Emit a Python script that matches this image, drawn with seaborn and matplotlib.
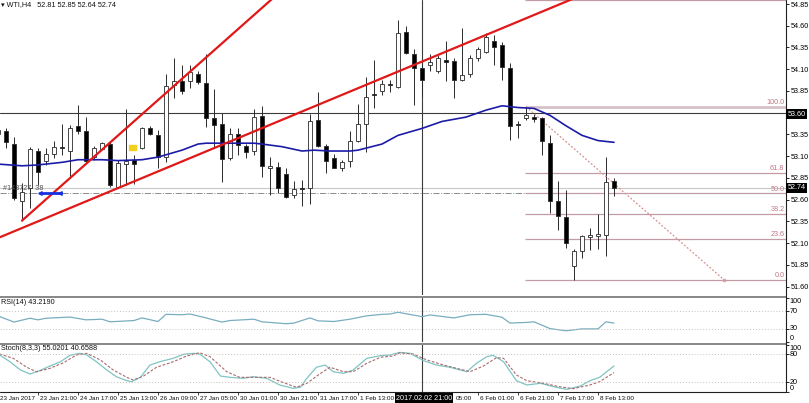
import numpy as np
import pandas as pd
import matplotlib
matplotlib.use("Agg")
import matplotlib.pyplot as plt
import seaborn as sns

# ------------------ DATA (WTI H4) ------------------
opens = [53.36, 53.39, 53.24, 52.59, 52.73, 53.16, 53.04, 53.13, 53.21, 53.16,
         53.45, 53.39, 53.09, 53.18, 53.24, 52.75, 53.01, 53.06, 53.19, 53.43,
         53.34, 53.09, 53.92, 53.96, 53.96, 54.04, 53.94, 53.54, 53.47, 53.08,
         53.36, 53.22, 53.16, 53.56, 52.96, 52.98, 52.90, 52.65, 52.73, 52.73,
         53.52, 53.22, 53.08, 52.97, 53.05, 53.28, 53.47, 53.81, 53.85, 53.93,
         53.90, 54.53, 54.28, 54.11, 54.15, 54.08, 54.21, 54.19, 53.98, 54.04,
         54.23, 54.30, 54.43, 54.38, 54.12, 53.47, 53.54, 53.55, 53.54, 53.25,
         52.59, 52.40, 51.84, 52.01, 52.17, 52.18, 52.20, 52.81]
highs = [53.45, 53.43, 53.32, 52.79, 53.21, 53.19, 53.19, 53.27, 53.47, 53.46,
         53.69, 53.55, 53.22, 53.26, 53.26, 53.06, 53.64, 53.11, 53.44, 53.45,
         53.40, 54.05, 54.23, 54.15, 54.15, 54.08, 54.27, 53.87, 53.60, 53.43,
         53.42, 53.24, 53.64, 53.68, 53.09, 53.03, 52.96, 52.81, 52.83, 53.58,
         53.84, 53.24, 53.13, 53.06, 53.39, 53.70, 54.01, 54.21, 53.98, 53.98,
         54.67, 54.60, 54.33, 54.16, 54.28, 54.26, 54.42, 54.23, 54.57, 54.26,
         54.36, 54.52, 54.49, 54.41, 54.17, 53.50, 53.67, 53.58, 53.55, 53.34,
         52.81, 52.71, 52.03, 52.20, 52.28, 52.44, 53.09, 52.85]
lows = [53.33, 53.19, 52.60, 52.36, 52.50, 52.77, 53.00, 53.08, 53.11, 52.86,
        53.36, 53.02, 53.06, 53.17, 52.75, 52.73, 52.77, 52.78, 53.18, 53.34,
        52.96, 53.03, 53.77, 53.81, 53.89, 53.93, 53.44, 53.21, 52.80, 53.06,
        53.11, 53.08, 53.11, 52.86, 52.66, 52.68, 52.62, 52.62, 52.53, 52.55,
        53.21, 52.91, 52.96, 52.93, 52.98, 53.26, 53.15, 53.66, 53.80, 53.84,
        53.89, 54.28, 53.69, 53.78, 54.08, 54.06, 53.96, 53.77, 53.97, 54.01,
        54.20, 54.29, 54.15, 53.98, 53.29, 53.31, 53.52, 53.49, 53.11, 52.45,
        52.25, 52.04, 51.68, 51.93, 52.02, 52.03, 51.95, 52.64]
closes = [53.40, 53.26, 52.62, 52.69, 53.18, 52.92, 53.13, 53.21, 53.19, 53.43,
          53.39, 53.04, 53.19, 53.25, 52.77, 53.02, 53.05, 53.01, 53.42, 53.36,
          53.09, 53.91, 53.96, 53.85, 54.07, 53.95, 53.54, 53.46, 53.07, 53.35,
          53.23, 53.15, 53.55, 52.99, 52.99, 52.73, 52.63, 52.72, 52.72, 53.50,
          53.22, 53.05, 52.97, 53.03, 53.28, 53.47, 53.78, 53.80, 53.93, 53.92,
          54.52, 54.29, 54.12, 53.98, 54.18, 54.23, 54.18, 53.98, 54.03, 54.23,
          54.33, 54.47, 54.36, 54.13, 53.45, 53.46, 53.57, 53.53, 53.27, 52.58,
          52.41, 52.10, 52.01, 52.18, 52.20, 52.21, 52.80, 52.74]

# moving average (blue), anchor points along the curve
ma_bars = [0, 3, 5, 8, 10, 13, 15, 18, 20, 23, 25, 26, 32, 33, 35.5, 38, 39.5,
           41.5, 44, 45, 48, 50, 53, 55.5, 58.5, 61, 63, 65, 67, 69, 71, 73, 75, 77]
ma_vals = [53.01, 52.99, 53.00, 53.03, 53.06, 53.06, 53.05, 53.06, 53.09, 53.17,
           53.24, 53.25, 53.25, 53.24, 53.21, 53.16, 53.17, 53.16, 53.16, 53.17,
           53.24, 53.34, 53.42, 53.50, 53.55, 53.63, 53.68, 53.66, 53.65, 53.57,
           53.45, 53.34, 53.28, 53.26]

# red trend lines (two anchor points each)
trend1_bars, trend1_prices = [3, 36], [52.36, 55.05]
trend2_bars, trend2_prices = [0, 75], [52.16, 55.03]

# fibonacci retracement
fib_high, fib_low = 53.67, 51.68
fib_start_bar, fib_end_bar = 66, 90.75
fib_levels = [0.0, 23.6, 38.2, 50.0, 61.8, 100.0, 161.8]

bid_price = 52.74
order_price = 52.675
cross_price = 53.60
cross_bar = 53
marker_bar, marker_price = 16.8, 53.20

# RSI(14)
rsi_bars = [0, 2, 4, 5, 6, 9, 11, 13, 14, 17, 18, 20, 21, 23, 24, 26, 28, 29, 32, 33,
            35, 36, 37, 39, 40, 42, 44, 46, 48, 49, 50, 53, 54, 57, 59, 61, 63, 64, 66, 67,
            69, 71, 73, 75, 76, 77]
rsi_vals = [59.6, 45.6, 54.4, 50.7, 54.4, 57.0, 50.7, 52.2, 46.2, 49.1, 55.1, 46.9, 63.3,
            62.4, 64.0, 55.1, 45.6, 49.1, 52.2, 46.2, 43.3, 41.8, 43.3, 55.1, 48.4, 46.9,
            52.2, 59.6, 63.3, 64.0, 68.0, 58.0, 61.8, 55.1, 62.4, 63.3, 56.7, 43.3, 44.7,
            46.2, 30.7, 25.6, 30.0, 30.0, 46.2, 43.2]

# Stochastic(8,3,3)
stk_bars = [0.2, 1.5, 2.8, 4.0, 5.2, 6.5, 7.8, 9.0, 10.2, 11.1, 12.3, 13.6, 14.8, 16.1,
            16.7, 17.8, 19.0, 20.2, 21.9, 23.2, 24.4, 25.2, 26.5, 27.8, 29.0, 30.7, 31.9,
            33.6, 35.2, 36.9, 37.8, 38.6, 39.8, 40.9, 41.9, 43.2, 44.4, 46.1, 47.8, 49.0,
            50.2, 51.5, 53.2, 54.8, 56.5, 58.6, 59.8, 61.1, 61.9, 63.2, 64.8, 66.1, 67.8,
            69.8, 71.1, 72.8, 74.0, 75.2, 77.0]
stk_main = [78.5, 64, 46.4, 37.8, 44.9, 55, 64, 77.8, 82, 78.5, 64, 46.4, 32, 23.5, 21.3,
            30.7, 57, 64, 71.4, 80, 82, 80.6, 64, 33.5, 30.7, 28.6, 32, 28.6, 14.3, 7.2,
            9.3, 28.6, 52.2, 57, 42.7, 39.3, 46.4, 71.4, 77, 78.5, 84, 82, 66.3, 57, 52.2,
            42.7, 60.7, 74.9, 77.9, 64, 23.5, 14.3, 17.9, 9.3, 5, 12.1, 23.5, 30.7, 55.0]
sig_bars = [0.2, 1.9, 3.6, 4.8, 6.5, 8.2, 9.8, 11.1, 12.8, 14.4, 16.1, 16.9, 18.2, 19.8,
            21.9, 23.6, 25.2, 26.5, 28.6, 30.2, 31.9, 34.0, 35.7, 37.3, 38.6, 40.2, 41.5,
            43.2, 44.4, 46.1, 47.8, 49.4, 50.2, 51.9, 53.6, 55.7, 57.8, 59.0, 60.7, 62.3,
            63.2, 64.8, 66.1, 68.2, 70.2, 71.9, 74.0, 75.2, 77.0]
sig_vals = [80.6, 71.4, 52.2, 42.7, 50, 62, 78.5, 82, 67.8, 46.4, 30.7, 25, 33.5, 52.2,
            64, 76.4, 83.4, 74.9, 42.7, 30.7, 30.7, 30.7, 19.2, 9.3, 17.9, 37.8, 52.2,
            42.7, 42.7, 60.7, 73.6, 76.4, 83, 80.6, 67.8, 57, 47.9, 42.7, 55, 72.7, 71.4,
            35.7, 23.5, 17.9, 10.6, 6.4, 14.3, 21.3, 40.7]

# time axis (2 Feb 09:00 sits under the crosshair box, 3 Feb shows only its hour)
time_bars = [0, 5, 10, 15, 20, 25, 30, 35, 40, 45, 57.0, 60, 65, 70, 75]
time_labels = ["23 Jan 2017", "23 Jan 21:00", "24 Jan 17:00", "25 Jan 13:00",
               "26 Jan 09:00", "27 Jan 05:00", "30 Jan 01:00", "30 Jan 21:00",
               "31 Jan 17:00", "1 Feb 13:00", "05:00", "6 Feb 01:00",
               "6 Feb 21:00", "7 Feb 17:00", "8 Feb 13:00"]
tick_marks = [5, 10, 15, 20, 25, 30, 35, 40, 45, 50, 55, 60, 65, 70, 75]

rsi_levels = [0, 30, 70, 100]
stoch_levels = [0, 20, 80, 100]

# ------------------ STYLE ------------------
sns.set_theme(style="white")
plt.rcParams["font.family"] = ["Liberation Sans", "DejaVu Sans"]
FS = 5.2
FS_TIME = 4.6
W, H = 809, 403
XLIM = (0.25, 98.5)

def fx(px):
    return px / W

def fy(py):
    return 1 - py / H

fig = plt.figure(figsize=(W / 100, H / 100), dpi=100)
fig.patch.set_facecolor("white")
ax_p = fig.add_axes([0, fy(295), fx(786), 295 / H])
ax_r = fig.add_axes([0, fy(342), fx(786), 44.5 / H])
ax_s = fig.add_axes([0, fy(392), fx(786), 48 / H])

for ax in (ax_p, ax_r, ax_s):
    for sp in ax.spines.values():
        sp.set_visible(False)
    ax.set_xlim(*XLIM)
    ax.set_facecolor("white")
    ax.yaxis.tick_right()
    ax.tick_params(axis="y", right=True, left=False, length=2, width=0.6, pad=1.5,
                   labelsize=FS, colors="black")

# ------------------ PRICE PANEL ------------------
df = pd.DataFrame({"o": opens, "h": highs, "l": lows, "c": closes})
df["bar"] = np.arange(len(df))
up = df["c"] >= df["o"]
ax_p.vlines(df["bar"], df["l"], df["h"], color="#2a2a2a", lw=0.7, zorder=3)
body = (df["c"] - df["o"]).abs().clip(lower=0.008)
ax_p.bar(df["bar"], body, bottom=df[["o", "c"]].min(axis=1), width=0.62,
         color=np.where(up, "white", "black"), edgecolor="#2a2a2a", lw=0.6, zorder=4)

ma_df = pd.DataFrame({"bar": ma_bars, "ma": ma_vals})
sns.lineplot(data=ma_df, x="bar", y="ma", ax=ax_p, color="#1c1ca8", lw=1.2,
             estimator=None, sort=False, zorder=5)

ax_p.plot(trend1_bars, trend1_prices, color="#e01818", lw=1.6, zorder=6)
ax_p.plot(trend2_bars, trend2_prices, color="#e01818", lw=1.6, zorder=6)

fib_range = fib_high - fib_low
for lv in fib_levels:
    p = fib_low + fib_range * lv / 100
    is_top = lv == 100.0
    ax_p.hlines(p, fib_start_bar - 0.1, XLIM[1], color="#d8c0c8" if is_top else "#c49aa4",
                lw=2.0 if is_top else 0.9, zorder=2)
    if lv < 150:
        ax_p.text(XLIM[1] - 0.2, p + 0.008, f"{lv:.1f}", ha="right", va="bottom",
                  fontsize=FS, color="#c07888", zorder=7)
ax_p.plot([fib_start_bar, fib_end_bar], [fib_high, fib_low], color="#d89090", lw=0.9,
          ls=(0, (1.5, 1.5)), zorder=3)
ax_p.plot([fib_end_bar], [fib_low], marker="o", ms=2, mfc="none", mec="#d89090", mew=0.6)

ax_p.axhline(cross_price, color="#3c3c3c", lw=0.8, zorder=1)
ax_p.axhline(bid_price, color="#c8c8c8", lw=0.8, zorder=1)
ax_p.axhline(order_price, color="#8c8c8c", lw=0.7, ls="-.", zorder=1)

ax_p.add_patch(plt.Rectangle((marker_bar - 0.45, marker_price - 0.03), 0.9, 0.06,
                             color="#f0d020", zorder=6))
ax_p.plot([5.3, 7.8], [order_price + 0.006] * 2, color="#1530e0", lw=2.0,
          marker="<", ms=2.5, zorder=6)

price_ticks = np.arange(51.60, 54.86, 0.25)
ax_p.set_ylim(51.505, 54.896)
ax_p.set_xticks([])
ax_p.set_yticks(price_ticks)
# the 53.60 level is shown by the black price box instead
ax_p.set_yticklabels(["" if abs(v - cross_price) < 0.01 else f"{v:.2f}" for v in price_ticks])
ax_p.set_xlabel("")
ax_p.set_ylabel("")

# ------------------ RSI PANEL ------------------
rsi_df = pd.DataFrame({"bar": rsi_bars, "rsi": rsi_vals})
sns.lineplot(data=rsi_df, x="bar", y="rsi", ax=ax_r, color="#78aec0", lw=0.9,
             estimator=None, sort=False)
for lv in (70, 30):
    ax_r.axhline(lv, color="#c8c0b8", lw=0.7, ls=(0, (1, 2)))
ax_r.set_ylim(1.8, 101.8)
ax_r.set_xticks([])
ax_r.set_xlabel("")
ax_r.set_ylabel("")

# ------------------ STOCH PANEL ------------------
stk_df = pd.DataFrame({"bar": stk_bars, "k": stk_main})
sig_df = pd.DataFrame({"bar": sig_bars, "d": sig_vals})
sns.lineplot(data=stk_df, x="bar", y="k", ax=ax_s, color="#80c4c4", lw=0.9,
             estimator=None, sort=False)
sns.lineplot(data=sig_df, x="bar", y="d", ax=ax_s, color="#a86c6c", lw=0.8,
             estimator=None, sort=False, linestyle=(0, (2.5, 1.5)))
for lv in (80, 20):
    ax_s.axhline(lv, color="#c8c0b8", lw=0.7, ls=(0, (1, 2)))
ax_s.set_ylim(-0.7, 102)
ax_s.set_ylabel("")
ax_s.set_xlabel("")

# indicator scales: tick marks plus labels kept inside their own panel
for ax, levels in ((ax_r, rsi_levels), (ax_s, stoch_levels)):
    ax.set_yticks(levels)
    ax.set_yticklabels([])
    for lv in levels:
        dy = -2.6 if lv == 100 else (2.4 if lv == 0 else 0)
        ax.annotate(str(lv), xy=(1, lv), xycoords=("axes fraction", "data"),
                    xytext=(2.6, dy), textcoords="offset points", ha="left", va="center",
                    fontsize=FS, color="black", annotation_clip=False)

# time ticks: marks at every 5 bars, labels to the right of them
ax_s.set_xticks(tick_marks)
ax_s.set_xticklabels([])
ax_s.tick_params(axis="x", bottom=True, length=2.5, width=0.6, pad=1.5)
for b, lab in zip(time_bars, time_labels):
    ax_s.annotate(lab, xy=(b, 0), xycoords=("data", "axes fraction"),
                  xytext=(1.3, -5.0), textcoords="offset points", ha="left", va="center",
                  fontsize=FS_TIME, color="#101010", annotation_clip=False)

# crosshair vertical across every panel
for ax in (ax_p, ax_r, ax_s):
    ax.axvline(cross_bar, color="#3c3c3c", lw=0.8, zorder=1)

# ------------------ FRAME / SEPARATORS ------------------
for y0 in (295.5, 342.5):
    fig.add_artist(plt.Rectangle((0, fy(y0 + 2.2)), fx(786), 2.2 / H,
                                 transform=fig.transFigure, color="#8a8a8a", lw=0))
fig.add_artist(plt.Line2D([fx(786), fx(786)], [fy(392), 1], transform=fig.transFigure,
                          color="#202020", lw=0.8))
fig.add_artist(plt.Line2D([0, fx(786)], [fy(392), fy(392)], transform=fig.transFigure,
                          color="#202020", lw=0.8))

# ------------------ TEXTS ------------------
fig.text(fx(1), fy(5), "\u25be WTI,H4   52.81 52.85 52.64 52.74", fontsize=FS,
         ha="left", va="center", color="#101010")
fig.text(fx(1), fy(302), "RSI(14) 43.2190", fontsize=FS, ha="left", va="center",
         color="#101010")
fig.text(fx(1), fy(349), "Stoch(8,3,3) 55.0201 40.6588", fontsize=FS, ha="left",
         va="center", color="#101010")
fig.text(fx(3), fy(189), "#143727  38", fontsize=FS, ha="left", va="center",
         color="#505050")
box = dict(facecolor="black", edgecolor="none", pad=0.9)
fig.text(fx(787.5), fy(114), "53.60", fontsize=FS, ha="left", va="center",
         color="white", bbox=box)
fig.text(fx(787.5), fy(188), "52.74", fontsize=FS, ha="left", va="center",
         color="white", bbox=box)
fig.text(fx(424), fy(398), "2017.02.02 21:00", fontsize=FS, ha="center", va="center",
         color="white", bbox=box)

fig.savefig("out.png", dpi=100, facecolor="white")
